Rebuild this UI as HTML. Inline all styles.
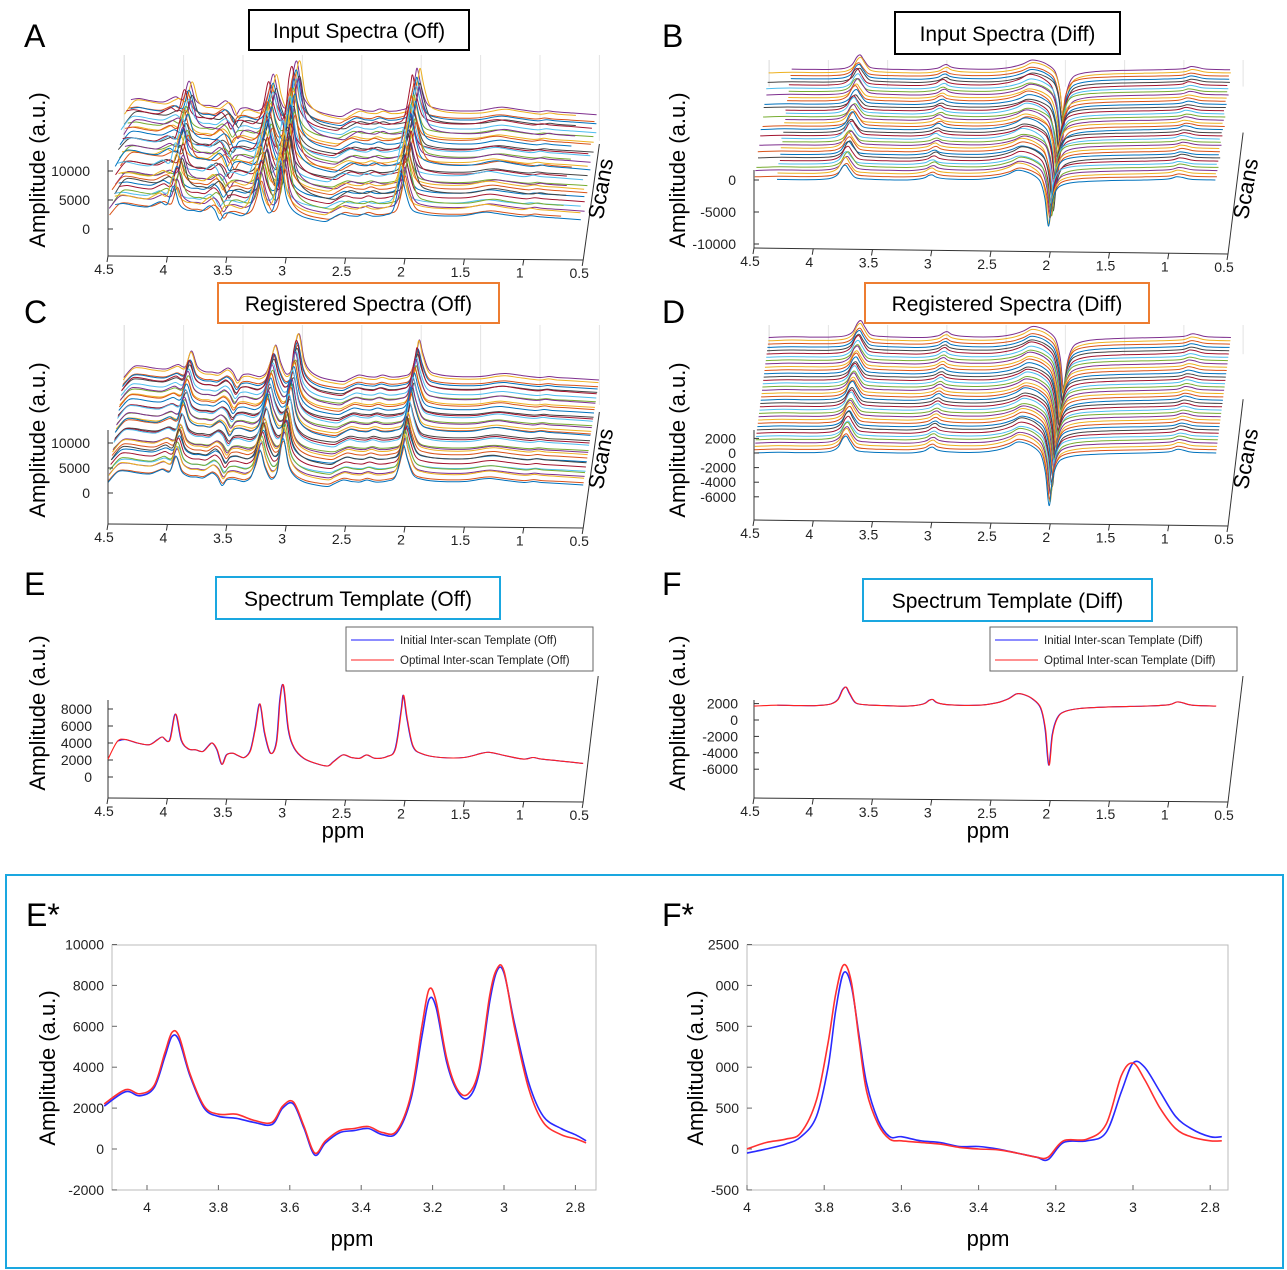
<!DOCTYPE html>
<html><head><meta charset="utf-8">
<style>
body{margin:0;background:#fff;}
svg{display:block;font-family:"Liberation Sans",Arial,sans-serif;}
.tk{font-size:14px;fill:#222;}
.ttl{font-size:21px;fill:#000;}
.lbl{font-size:22px;fill:#000;}
.let{font-size:32px;fill:#000;}
</style></head>
<body>
<svg id="fig" width="1287" height="1270" viewBox="0 0 1287 1270" xmlns="http://www.w3.org/2000/svg">
<rect x="0" y="0" width="1287" height="1270" fill="#fff"/>
<g id="static"></g>
</svg>
<script>
// ---------- DATA ----------
const offPpm = [4.6,4.5,4.42,4.35,4.25,4.15,4.08,4.04,3.98,3.93,3.88,3.82,3.76,3.7,3.65,3.62,3.58,3.54,3.5,3.45,3.4,3.35,3.3,3.26,3.22,3.18,3.13,3.08,3.05,3.02,2.98,2.93,2.85,2.75,2.65,2.6,2.52,2.45,2.38,2.32,2.25,2.15,2.08,2.03,2.01,1.98,1.93,1.85,1.7,1.5,1.35,1.28,1.15,1.0,0.92,0.85,0.7,0.5,0.4];
const offVal = [1800,2100,4200,4400,4000,3800,4400,4700,4300,7400,4300,3300,3200,3000,3700,4000,3200,1500,2600,2800,2500,2300,3100,5600,8600,5200,2800,4100,9200,10700,5600,3400,2200,1600,1300,1800,2600,2300,2200,2600,2200,2400,3300,7800,9600,6800,3600,2700,2300,2300,2800,2900,2500,2100,2300,2100,1900,1600,1500];
const diffPpm = [4.6,4.5,4.3,4.1,3.95,3.85,3.79,3.75,3.72,3.69,3.64,3.55,3.4,3.2,3.07,3.02,2.99,2.95,2.85,2.6,2.45,2.35,2.28,2.22,2.15,2.08,2.04,2.01,1.98,1.94,1.88,1.75,1.5,1.2,1.0,0.93,0.88,0.8,0.6,0.4];
const diffVal = [0,0,100,50,80,250,800,2000,2300,1500,400,150,50,0,250,700,800,400,150,100,400,900,1500,1400,900,-200,-2800,-7200,-3500,-1500,-700,-300,-100,0,150,500,400,100,0,0];
// zoomed E* (Off) — two templates
const ezPpm = [4.12,4.06,4.02,3.98,3.95,3.93,3.91,3.88,3.84,3.8,3.75,3.7,3.65,3.62,3.59,3.56,3.53,3.5,3.46,3.42,3.38,3.34,3.3,3.26,3.23,3.21,3.19,3.16,3.13,3.1,3.07,3.04,3.02,3.0,2.97,2.93,2.89,2.84,2.8,2.77];
const ezInit = [2100,2800,2600,3000,4500,5500,5300,3600,2000,1600,1500,1300,1200,2000,2200,1000,-300,300,800,900,1000,700,800,2500,5500,7300,6900,4200,2800,2500,3700,7200,8700,8600,6100,3200,1600,1000,700,400];
const ezOpt  = [2200,2900,2700,3100,4700,5700,5500,3700,2100,1700,1700,1400,1300,2100,2300,1100,-200,400,900,1000,1100,800,900,2700,6000,7800,7200,4400,2900,2700,3900,7500,8800,8700,5900,2900,1300,700,500,300];
const fzPpm = [4.0,3.95,3.9,3.86,3.82,3.79,3.77,3.75,3.73,3.71,3.69,3.66,3.63,3.6,3.55,3.5,3.45,3.4,3.35,3.3,3.25,3.22,3.18,3.12,3.07,3.03,3.0,2.97,2.93,2.89,2.85,2.8,2.77];
const fzInit = [-50,0,60,150,400,1000,1700,2150,2000,1400,800,350,150,150,100,80,30,30,0,-50,-100,-130,80,100,200,700,1050,1000,700,400,250,150,150];
const fzOpt  = [0,80,120,200,600,1300,1900,2250,2050,1350,700,300,120,100,80,60,20,0,-10,-50,-100,-100,100,120,300,900,1050,850,500,250,150,100,100];
const scanAmp = [1.0,0.9,1.1,0.95,1.05,0.85,1.0,1.15,0.9,1.0,1.05,0.95,0.8,1.1,1.0,0.9,1.2,1.0,0.95,1.05,0.9,1.1,1.0,0.85,1.0,1.05,0.95,1.1,0.9,1.0,1.15,0.95,1.0,0.9,1.05,1.0];
const scanShift = [0.02,-0.01,0.03,0,-0.02,0.04,0.01,-0.03,0.02,0,0.03,-0.02,0.01,0.05,-0.01,0.02,0,-0.04,0.03,0.01,-0.02,0.02,0.04,0,-0.01,0.03,0.01,-0.03,0.02,0,0.04,-0.02,0.01,0.03,-0.01,0.02];
const xTicks = [4.5,4,3.5,3,2.5,2,1.5,1,0.5];
const ezXTicks = [4,3.8,3.6,3.4,3.2,3,2.8];
const ezYTicks = [10000,8000,6000,4000,2000,0,-2000];
const fzYTicks = [2500,2000,1500,1000,500,0,-500];
const fzYLabels = ["2500","000","500","000","500","0","-500"];
const colors = ["#0072BD","#D95319","#EDB120","#7E2F8E","#77AC30","#4DBEEE","#A2142F","#444444"];

// ---------- HELPERS ----------
const NS="http://www.w3.org/2000/svg";
const svg=document.getElementById('fig');
function mk(tag,attrs,parent){const e=document.createElementNS(NS,tag);for(const k in attrs)e.setAttribute(k,attrs[k]);(parent||svg).appendChild(e);return e;}
function smooth(pts){
  let d="M"+pts[0][0].toFixed(1)+" "+pts[0][1].toFixed(1);
  for(let i=0;i<pts.length-1;i++){
    const p0=pts[Math.max(0,i-1)],p1=pts[i],p2=pts[i+1],p3=pts[Math.min(pts.length-1,i+2)];
    const c1=[p1[0]+(p2[0]-p0[0])/6,p1[1]+(p2[1]-p0[1])/6];
    const c2=[p2[0]-(p3[0]-p1[0])/6,p2[1]-(p3[1]-p1[1])/6];
    d+="C"+c1[0].toFixed(1)+" "+c1[1].toFixed(1)+" "+c2[0].toFixed(1)+" "+c2[1].toFixed(1)+" "+p2[0].toFixed(1)+" "+p2[1].toFixed(1);
  }
  return d;
}
function text(x,y,s,cls,anchor,parent,extra){const t=mk('text',Object.assign({x:x,y:y,class:cls,'text-anchor':anchor||'middle'},extra||{}),parent);t.textContent=s;return t;}

// ---------- WATERFALL PANEL ----------
function waterfall(cfg){
  const g=mk('g',{});
  
  
  const xs=p=>cfg.x0+(4.5-p)*cfg.ppx;
  const L=xs(4.5),R=xs(0.5);
  const N=scanAmp.length;
  for(let k=0;k<xTicks.length;k++){
    const x=xs(xTicks[k])+cfg.dx*N;
    mk('line',{x1:x,y1:cfg.backTop,x2:x,y2:cfg.base+cfg.dy*N+20,stroke:'#e4e4e4','stroke-width':1},g);
  }
  mk('line',{x1:L+cfg.dx*N,y1:cfg.backTop,x2:L+cfg.dx*N,y2:cfg.base+cfg.dy*N+20,stroke:'#ddd'},g);
  for(let i=N-1;i>=0;i--){
    const sh=cfg.shift?scanShift[i]*cfg.shift:0;
    const amp=1+(scanAmp[i]-1)*cfg.ampVar;
    const pts=[];
    for(let j=0;j<cfg.ppm.length;j++){
      const p=cfg.ppm[j]+sh;
      if(p>4.5+1e-9||p<0.5) continue;
      pts.push([xs(p)+cfg.dx*i, cfg.base+cfg.dy*i-(cfg.val[j]*amp)*cfg.sy]);
    }
    const path=mk('path',{d:smooth(pts),fill:'none',stroke:colors[i%colors.length],'stroke-width':1},g);
    
    
  }
  mk('line',{x1:L,y1:cfg.axisY,x2:R,y2:cfg.axisY+cfg.slant,stroke:'#333','stroke-width':1},g);
  mk('line',{x1:R,y1:cfg.axisY+cfg.slant,x2:R+cfg.dx*N,y2:cfg.axisY+cfg.slant+cfg.dy*N-8,stroke:'#333'},g);
  mk('line',{x1:L,y1:cfg.axisY,x2:L,y2:cfg.zTop,stroke:'#333'},g);
  for(let k=0;k<xTicks.length;k++){
    const x=xs(xTicks[k]);const yy=cfg.axisY+cfg.slant*(x-L)/(R-L);
    mk('line',{x1:x,y1:yy,x2:x-1,y2:yy+6,stroke:'#333'},g);
    const t=text(x-4,yy+18,String(xTicks[k]),'tk','middle',g);
    
    
  }
  for(let k=0;k<cfg.yTicks.length;k++){
    const y=cfg.base-cfg.yTicks[k]*cfg.sy;
    mk('line',{x1:L,y1:y,x2:L+5,y2:y,stroke:'#333'},g);
    const t=text(L-18,y+5,String(cfg.yTicks[k]),'tk','end',g);
    
    
  }
}

// ---------- 2D TEMPLATE PANEL ----------
function template(cfg){
  const g=mk('g',{});
  
  
  const xs=p=>cfg.x0+(4.5-p)*cfg.ppx;
  const L=xs(4.5),R=xs(0.5);
  mk('line',{x1:L,y1:cfg.axisY,x2:R,y2:cfg.axisY+4,stroke:'#333'},g);
  mk('line',{x1:R,y1:cfg.axisY+4,x2:R+15,y2:cfg.axisY-122,stroke:'#333'},g);
  mk('line',{x1:L,y1:cfg.axisY,x2:L,y2:cfg.zTop,stroke:'#333'},g);
  for(let k=0;k<xTicks.length;k++){
    const x=xs(xTicks[k]);const yy=cfg.axisY+4*(x-L)/(R-L);
    mk('line',{x1:x,y1:yy,x2:x-1,y2:yy+6,stroke:'#333'},g);
    const t=text(x-4,yy+18,String(xTicks[k]),'tk','middle',g);
    
    
  }
  for(let k=0;k<cfg.yTicks.length;k++){
    const y=cfg.base-cfg.yTicks[k]*cfg.sy;
    mk('line',{x1:L,y1:y,x2:L+5,y2:y,stroke:'#333'},g);
    const t=text(L-16,y+5,String(cfg.yTicks[k]),'tk','end',g);
    
    
  }
  const series=[[cfg.offset2||0,'#1a1aff','initial-template-line'],[0,'#ff2020','optimal-template-line']];
  for(const s of series){
    const pts=[];
    for(let j=0;j<cfg.ppm.length;j++){const p=cfg.ppm[j]+s[0];if(p>4.5||p<0.5)continue;pts.push([xs(p),cfg.base-(cfg.val[j]+cfg.off)*cfg.sy]);}
    const path=mk('path',{d:smooth(pts),fill:'none',stroke:s[1],'stroke-width':1.1},g);
    
    
  }
  const lg=mk('g',{},g);
  
  
  mk('rect',{x:cfg.legX,y:627,width:247,height:44,fill:'#fff',stroke:'#666'},lg);
  mk('line',{x1:cfg.legX+5,y1:640,x2:cfg.legX+48,y2:640,stroke:'#1a1aff'},lg);
  mk('line',{x1:cfg.legX+5,y1:660,x2:cfg.legX+48,y2:660,stroke:'#ff2020'},lg);
  text(cfg.legX+54,644,'Initial Inter-scan Template ('+cfg.tag+')','tk','start',lg,{style:'font-size:11.5px'});
  text(cfg.legX+54,664,'Optimal Inter-scan Template ('+cfg.tag+')','tk','start',lg,{style:'font-size:11.5px'});
}

// ---------- ZOOM PANELS ----------
function zoomPanel(cfg){
  const g=mk('g',{});
  
  
  const xs=p=>cfg.xA+(cfg.pA-p)*cfg.ppx;
  const ys=v=>cfg.y0-v*cfg.sy;
  mk('rect',{x:cfg.L,y:945,width:cfg.R-cfg.L,height:245,fill:'none',stroke:'#bbb'},g);
  for(let k=0;k<ezXTicks.length;k++){
    const p=ezXTicks[k];const x=xs(p);if(x<cfg.L-1||x>cfg.R+1)continue;
    mk('line',{x1:x,y1:1190,x2:x,y2:1185,stroke:'#666'},g);
    const t=text(x,1212,String(p),'tk','middle',g);
    
    
  }
  for(let k=0;k<cfg.yt.length;k++){
    const y=ys(cfg.yt[k]);
    mk('line',{x1:cfg.L,y1:y,x2:cfg.L+5,y2:y,stroke:'#666'},g);
    const t=text(cfg.L-8,y+5,cfg.yl[k],'tk','end',g);
    
    
  }
  const ser=[[cfg.a,'#2a2aff','initial-template-line'],[cfg.b,'#ff3030','optimal-template-line']];
  for(const s of ser){
    const pts=cfg.ppm.map((p,j)=>[xs(p),ys(s[0][j])]);
    const path=mk('path',{d:smooth(pts),fill:'none',stroke:s[1],'stroke-width':1.6},g);
    
    
  }
}

// ---------- BUILD ----------
waterfall({name:'panel-a-input-off',ppm:offPpm,val:offVal,x0:108,ppx:118.8,base:229,sy:0.0058,dx:0.45,dy:-3.0,shift:1,ampVar:1,axisY:256,slant:4,zTop:160,yTicks:[10000,5000,0],backTop:55});
waterfall({name:'panel-b-input-diff',ppm:diffPpm,val:diffVal,x0:754,ppx:118.5,base:180,sy:0.0064,dx:0.42,dy:-3.15,shift:0.3,ampVar:1,axisY:248,slant:6,zTop:170,yTicks:[0,-5000,-10000],backTop:60});
waterfall({name:'panel-c-registered-off',ppm:offPpm,val:offVal,x0:108,ppx:118.8,base:493,sy:0.0050,dx:0.45,dy:-3.0,shift:0,ampVar:1,axisY:524,slant:4,zTop:430,yTicks:[10000,5000,0],backTop:325});
waterfall({name:'panel-d-registered-diff',ppm:diffPpm,val:diffVal,x0:754,ppx:118.5,base:453,sy:0.0073,dx:0.42,dy:-3.3,shift:0,ampVar:0.6,axisY:520,slant:6,zTop:430,yTicks:[2000,0,-2000,-4000,-6000],backTop:325});
template({name:'panel-e-template-off',ppm:offPpm,val:offVal,off:0,x0:108,ppx:118.8,base:777,sy:0.0085,axisY:798,zTop:700,yTicks:[8000,6000,4000,2000,0],legX:346,tag:'Off',offset2:0.004});
template({name:'panel-f-template-diff',ppm:diffPpm,val:diffVal,off:1700,x0:754,ppx:118.5,base:720,sy:0.0082,axisY:798,zTop:700,yTicks:[2000,0,-2000,-4000,-6000],legX:990,tag:'Diff',offset2:0.004});
zoomPanel({name:'panel-e-star-zoom-off',ppm:ezPpm,a:ezInit,b:ezOpt,L:112,R:596,xA:147,pA:4,ppx:357,y0:1149,sy:0.02045,yt:ezYTicks,yl:ezYTicks.map(String)});
zoomPanel({name:'panel-f-star-zoom-diff',ppm:fzPpm,a:fzInit,b:fzOpt,L:747,R:1228,xA:747,pA:4,ppx:386,y0:1149,sy:0.0818,yt:fzYTicks,yl:fzYLabels});

// ---------- STATIC LABELS ----------
const st=document.getElementById('static');
svg.appendChild(st);
const boxes=[['title-input-off','Input  Spectra (Off)',249,10,220,40,'#000'],['title-input-diff','Input  Spectra (Diff)',895,12,225,42,'#000'],
['title-registered-off','Registered Spectra (Off)',218,283,281,40,'#ed7d31'],['title-registered-diff','Registered Spectra (Diff)',865,283,284,40,'#ed7d31'],
['title-template-off','Spectrum Template  (Off)',216,577,284,42,'#1aa7e0'],['title-template-diff','Spectrum Template  (Diff)',863,579,289,42,'#1aa7e0']];
for(const b of boxes){
  const r=mk('rect',{x:b[2],y:b[3],width:b[4],height:b[5],fill:'#fff',stroke:b[6],'stroke-width':2},st);
  
  
  const t=text(b[2]+b[4]/2,b[3]+b[5]/2+8,b[1],'ttl','middle',st);
  
  
}
const letters=[['A',24,47],['B',662,47],['C',24,323],['D',662,323],['E',24,595],['F',662,595],['E*',26,926],['F*',662,926]];
for(const l of letters){const t=text(l[1],l[2],l[0],'let','start',st);
  
  }
const ylabs=[[45,170],[685,170],[45,440],[685,440],[45,713],[685,713],[55,1068],[703,1068]];
for(const y of ylabs){const t=text(y[0],y[1],'Amplitude  (a.u.)','lbl','middle',st,{transform:'rotate(-90 '+y[0]+' '+y[1]+')'});
  
  }
const scans=[[608,190],[1253,190],[608,460],[1253,460]];
for(const s of scans){const t=text(s[0],s[1],'Scans','lbl','middle',st,{transform:'rotate(-80 '+s[0]+' '+s[1]+')'});
  
  }
const ppms=[[343,838],[988,838],[352,1246],[988,1246]];
for(const p of ppms){const t=text(p[0],p[1],'ppm','lbl','middle',st);
  
  }
const frame=mk('rect',{x:6,y:875,width:1277,height:393,fill:'none',stroke:'#1aa7e0','stroke-width':2},st);


</script>
</body></html>
